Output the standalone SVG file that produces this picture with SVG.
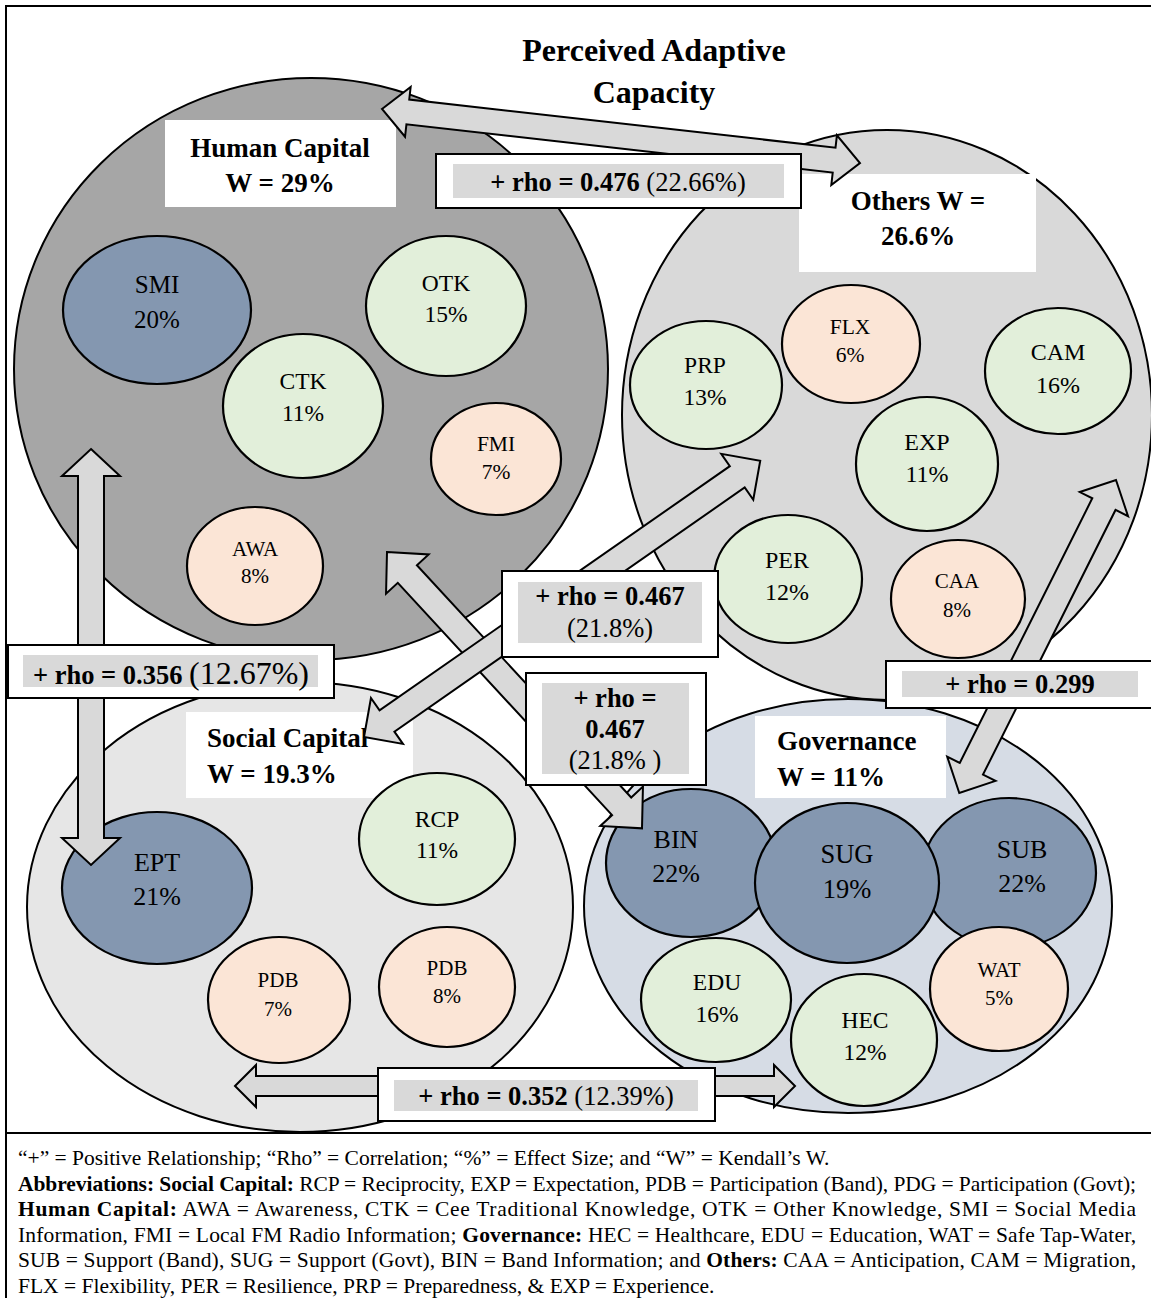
<svg xmlns="http://www.w3.org/2000/svg" width="1151" height="1298" viewBox="0 0 1151 1298">
<style>
text{font-family:"Liberation Serif","Times New Roman",serif;fill:#000}
.t{text-anchor:middle}
.b{font-weight:bold}
.frame{fill:none;stroke:#000;stroke-width:2}
.big{stroke:#000;stroke-width:2}
.hc{fill:#a6a6a6}.oth{fill:#d9d9d9}.soc{fill:#e6e6e6}.gov{fill:#d6dce5}
.nd{stroke:#000;stroke-width:2.2}
.blue{fill:#8497b0}.green{fill:#e2efda}.peach{fill:#fbe5d6}
.lbl{fill:#fff}
.arrow{fill:#d9d9d9;stroke:#000;stroke-width:2;stroke-linejoin:miter}
.rbox{fill:#fff;stroke:#000;stroke-width:2}
.rin{fill:#d9d9d9}
.rt{font-size:26.5px}
.gl{font-size:27px;font-weight:bold}
.fn{font-size:21.5px}
</style>
<rect class="frame" x="6" y="6" width="1170" height="1310"/>
<line x1="6" y1="1133" x2="1151" y2="1133" stroke="#000" stroke-width="2"/>

<g id="title">
<text class="t b" x="654" y="61" font-size="32">Perceived Adaptive</text>
<text class="t b" x="654" y="103" font-size="32">Capacity</text>
</g>

<g id="human-capital">
<ellipse class="big hc" cx="311" cy="369" rx="297" ry="291"/>
<rect class="lbl" x="165" y="120" width="231" height="87"/>
<text class="t gl" x="280" y="157">Human Capital</text>
<text class="t gl" x="280" y="192">W = 29%</text>
</g>
<g id="others">
<ellipse class="big oth" cx="887" cy="415" rx="265" ry="285"/>
<rect class="lbl" x="799" y="174" width="237" height="98"/>
<text class="t gl" x="918" y="210">Others W =</text>
<text class="t gl" x="918" y="245">26.6%</text>
</g>
<g id="social-capital">
<ellipse class="big soc" cx="300" cy="907" rx="273" ry="225"/>
<rect class="lbl" x="186" y="712" width="227" height="86"/>
<text class="gl" x="207" y="747">Social Capital</text>
<text class="gl" x="207" y="783">W = 19.3%</text>
</g>
<g id="governance">
<ellipse class="big gov" cx="848" cy="906" rx="264" ry="207"/>
<rect class="lbl" x="755" y="716" width="191" height="82"/>
<text class="gl" x="777" y="750">Governance</text>
<text class="gl" x="777" y="786">W = 11%</text>
</g>

<g id="node-SMI"><ellipse class="nd blue" cx="157" cy="310" rx="94" ry="74"/><text class="t" font-size="25" x="157" y="293">SMI</text><text class="t" font-size="25" x="157" y="328">20%</text></g>
<g id="node-OTK"><ellipse class="nd green" cx="446" cy="306" rx="80" ry="70"/><text class="t" font-size="23.5" x="446" y="291">OTK</text><text class="t" font-size="23.5" x="446" y="322">15%</text></g>
<g id="node-CTK"><ellipse class="nd green" cx="303" cy="406" rx="80" ry="72"/><text class="t" font-size="23.5" x="303" y="389">CTK</text><text class="t" font-size="23.5" x="303" y="421">11%</text></g>
<g id="node-FMI"><ellipse class="nd peach" cx="496" cy="459" rx="65" ry="56"/><text class="t" font-size="21.5" x="496" y="451">FMI</text><text class="t" font-size="21.5" x="496" y="479">7%</text></g>
<g id="node-AWA"><ellipse class="nd peach" cx="255" cy="566" rx="68" ry="59"/><text class="t" font-size="21" x="255" y="556">AWA</text><text class="t" font-size="21" x="255" y="583">8%</text></g>

<g id="node-PRP"><ellipse class="nd green" cx="706" cy="385" rx="76" ry="64"/><text class="t" font-size="23.5" x="705" y="373">PRP</text><text class="t" font-size="23.5" x="705" y="405">13%</text></g>
<g id="node-FLX"><ellipse class="nd peach" cx="851" cy="344" rx="69" ry="59"/><text class="t" font-size="21.5" x="850" y="334">FLX</text><text class="t" font-size="21.5" x="850" y="362">6%</text></g>
<g id="node-CAM"><ellipse class="nd green" cx="1058" cy="371" rx="73" ry="63"/><text class="t" font-size="24" x="1058" y="360">CAM</text><text class="t" font-size="24" x="1058" y="393">16%</text></g>
<g id="node-EXP"><ellipse class="nd green" cx="927" cy="464" rx="71" ry="67"/><text class="t" font-size="24" x="927" y="450">EXP</text><text class="t" font-size="24" x="927" y="482">11%</text></g>
<g id="node-PER"><ellipse class="nd green" cx="788" cy="579" rx="74" ry="64"/><text class="t" font-size="24" x="787" y="568">PER</text><text class="t" font-size="24" x="787" y="600">12%</text></g>
<g id="node-CAA"><ellipse class="nd peach" cx="958" cy="599" rx="67" ry="59"/><text class="t" font-size="21" x="957" y="588">CAA</text><text class="t" font-size="21" x="957" y="617">8%</text></g>

<g id="node-EPT"><ellipse class="nd blue" cx="157" cy="888" rx="95" ry="76"/><text class="t" font-size="26" x="157" y="871">EPT</text><text class="t" font-size="26" x="157" y="905">21%</text></g>
<g id="node-RCP"><ellipse class="nd green" cx="437" cy="839" rx="78" ry="66"/><text class="t" font-size="23.5" x="437" y="827">RCP</text><text class="t" font-size="23.5" x="437" y="858">11%</text></g>
<g id="node-PDB-7"><ellipse class="nd peach" cx="279" cy="1000" rx="71" ry="63"/><text class="t" font-size="21" x="278" y="987">PDB</text><text class="t" font-size="21" x="278" y="1016">7%</text></g>
<g id="node-PDB-8"><ellipse class="nd peach" cx="447" cy="987" rx="68" ry="60"/><text class="t" font-size="21" x="447" y="975">PDB</text><text class="t" font-size="21" x="447" y="1003">8%</text></g>

<g id="node-BIN"><ellipse class="nd blue" cx="691" cy="863" rx="85" ry="74"/><text class="t" font-size="26" x="676" y="848">BIN</text><text class="t" font-size="26" x="676" y="882">22%</text></g>
<g id="node-SUB"><ellipse class="nd blue" cx="1009" cy="873" rx="87" ry="75"/><text class="t" font-size="26" x="1022" y="858">SUB</text><text class="t" font-size="26" x="1022" y="892">22%</text></g>
<g id="node-SUG"><ellipse class="nd blue" cx="847" cy="883" rx="92" ry="80"/><text class="t" font-size="26.5" x="847" y="863">SUG</text><text class="t" font-size="26.5" x="847" y="898">19%</text></g>
<g id="node-EDU"><ellipse class="nd green" cx="716" cy="1000" rx="75" ry="62"/><text class="t" font-size="23.5" x="717" y="990">EDU</text><text class="t" font-size="23.5" x="717" y="1022">16%</text></g>
<g id="node-HEC"><ellipse class="nd green" cx="864" cy="1040" rx="73" ry="66"/><text class="t" font-size="23.5" x="865" y="1028">HEC</text><text class="t" font-size="23.5" x="865" y="1060">12%</text></g>
<g id="node-WAT"><ellipse class="nd peach" cx="999" cy="989" rx="69" ry="62"/><text class="t" font-size="21" x="999" y="977">WAT</text><text class="t" font-size="21" x="999" y="1005">5%</text></g>

<g id="connectors">
<path class="arrow" transform="translate(382,109) rotate(6.45)" d="M0,0 L26,-25 L26,-12.5 L455,-12.5 L455,-25 L481,0 L455,25 L455,12.5 L26,12.5 L26,25 Z"/>
<path class="arrow" transform="translate(91,449) rotate(90)" d="M0,0 L27,-29 L27,-13 L389,-13 L389,-29 L416,0 L389,29 L389,13 L27,13 L27,29 Z"/>
<path class="arrow" transform="translate(387,552) rotate(47.3)" d="M0,0 L30,-29 L30,-13 L346,-13 L346,-29 L376,0 L346,29 L346,13 L30,13 L30,29 Z"/>
<path class="arrow" transform="translate(364,737) rotate(-34.88)" d="M0,0 L28,-28 L28,-13 L455,-13 L455,-28 L483,0 L455,28 L455,13 L28,13 L28,28 Z"/>
<path class="arrow" transform="translate(1116,480) rotate(116.6)" d="M0,0 L27,-27 L27,-13 L323,-13 L323,-27 L350,0 L323,27 L323,13 L27,13 L27,27 Z"/>
<path class="arrow" transform="translate(235,1086)" d="M0,0 L21,-21 L21,-10 L539,-10 L539,-21 L560,0 L539,21 L539,10 L21,10 L21,21 Z"/>

<g id="label-0476">
<rect class="rbox" x="436" y="154" width="365" height="54"/>
<rect class="rin" x="453" y="164" width="331" height="34"/>
<text class="t rt" x="618" y="191"><tspan class="b">+ rho = 0.476</tspan> (22.66%)</text>
</g>
<g id="label-0356">
<rect class="rbox" x="8" y="645" width="326" height="53"/>
<rect class="rin" x="23" y="655" width="295" height="32"/>
<text class="t rt" x="171" y="684"><tspan class="b">+ rho = 0.356</tspan> <tspan font-size="32">(12.67%)</tspan></text>
</g>
<g id="label-0467-a">
<rect class="rbox" x="502" y="571" width="216" height="86"/>
<rect class="rin" x="518" y="582" width="184" height="61"/>
<text class="t rt b" x="610" y="605">+ rho = 0.467</text>
<text class="t rt" x="610" y="637">(21.8%)</text>
</g>
<g id="label-0467-b">
<rect class="rbox" x="526" y="673" width="180" height="112"/>
<rect class="rin" x="542" y="683" width="147" height="91"/>
<text class="t rt b" x="615" y="707">+ rho =</text>
<text class="t rt b" x="615" y="738">0.467</text>
<text class="t rt" x="615" y="769">(21.8% )</text>
</g>
<g id="label-0299">
<rect class="rbox" x="886" y="661" width="280" height="47"/>
<rect class="rin" x="902" y="671" width="236" height="26"/>
<text class="t rt b" x="1020" y="693">+ rho = 0.299</text>
</g>
<g id="label-0352">
<rect class="rbox" x="378" y="1068" width="337" height="53"/>
<rect class="rin" x="394" y="1080" width="304" height="31"/>
<text class="t rt" x="546" y="1105"><tspan class="b">+ rho = 0.352</tspan> (12.39%)</text>
</g>
</g>

<g id="footnote" class="fn">
<text class="fn" x="18" y="1165">“+” = Positive Relationship; “Rho” = Correlation; “%” = Effect Size; and “W” = Kendall’s W.</text>
<text class="fn" x="18" y="1190.6" textLength="1118" lengthAdjust="spacing"><tspan class="b">Abbreviations: Social Capital:</tspan> RCP = Reciprocity, EXP = Expectation, PDB = Participation (Band),  PDG = Participation (Govt);</text>
<text class="fn" x="18" y="1216.2" textLength="1118" lengthAdjust="spacing"><tspan class="b">Human Capital:</tspan> AWA = Awareness, CTK = Cee Traditional Knowledge, OTK = Other Knowledge, SMI = Social Media</text>
<text class="fn" x="18" y="1241.8" textLength="1118" lengthAdjust="spacing">Information, FMI = Local FM Radio Information; <tspan class="b">Governance:</tspan> HEC = Healthcare, EDU = Education, WAT = Safe Tap-Water,</text>
<text class="fn" x="18" y="1267.4" textLength="1118" lengthAdjust="spacing">SUB = Support (Band), SUG = Support (Govt), BIN = Band Information; and <tspan class="b">Others:</tspan> CAA = Anticipation, CAM = Migration,</text>
<text class="fn" x="18" y="1293">FLX = Flexibility, PER = Resilience, PRP = Preparedness, &amp; EXP = Experience.</text>
</g>
</svg>
